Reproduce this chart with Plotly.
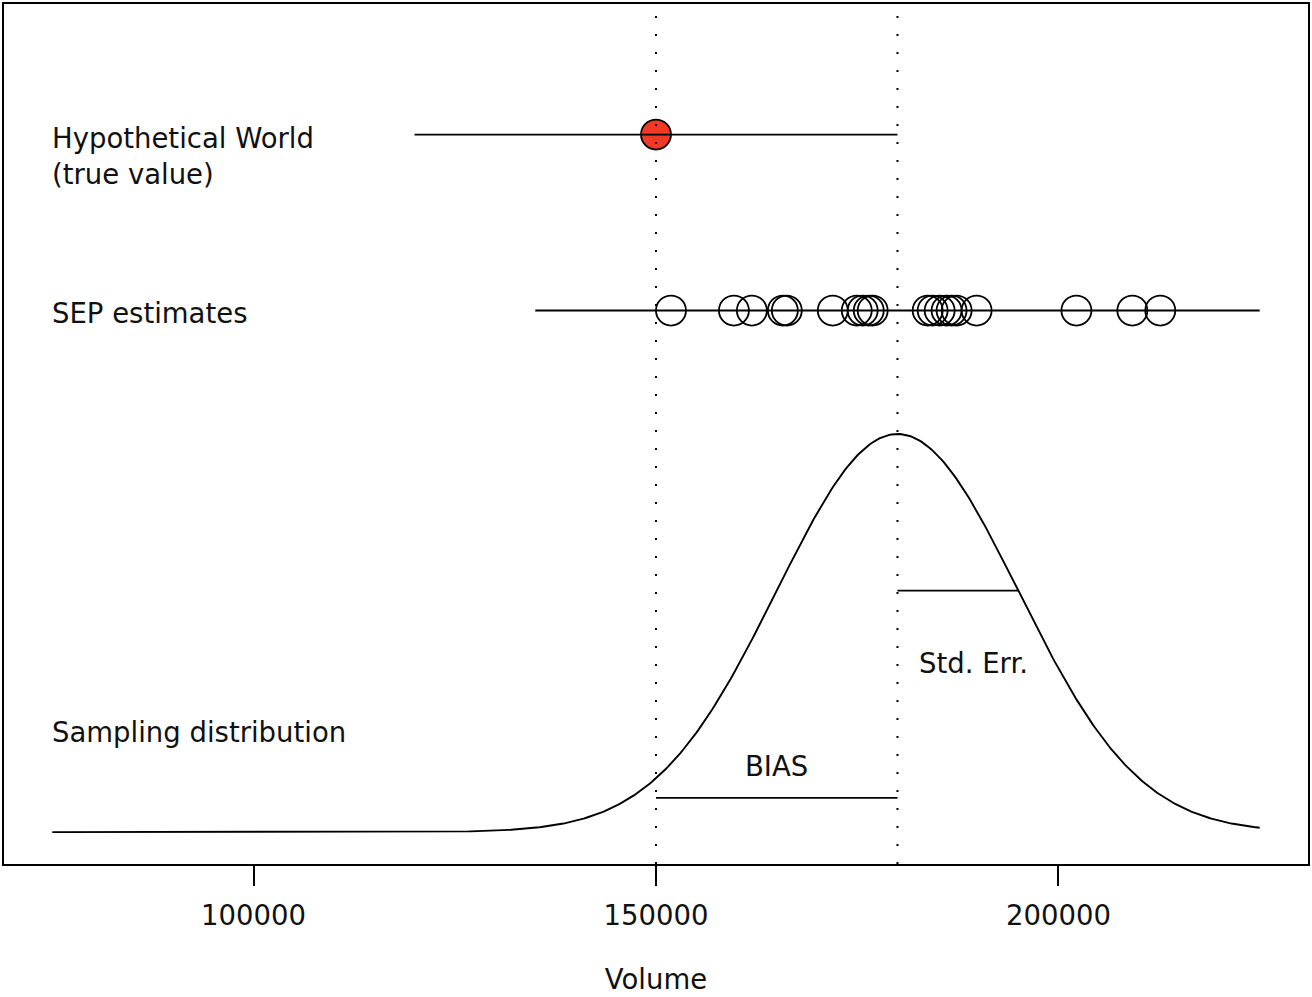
import numpy as np
import plotly.graph_objects as go

# ---- data ----
true_value = 150000
hyp_range = [120000, 180000]
hyp_level = 0.876

sep_estimates = [151860, 159680, 161910, 165760, 166250, 171960, 174940, 175680,
                 176430, 176920, 183750, 184370, 185240, 186100, 186720, 187350,
                 189830, 202230, 209180, 212650]
sep_range = [135000, 225000]
sep_level = 0.655

dist_mean = 180000
dist_se = 15000
dist_peak = 0.5
dist_span = [75000, 225000]

bias_level = 0.043
ref_lines = [150000, 180000]

tick_vals = [100000, 150000, 200000]
tick_text = ["100000", "150000", "200000"]

FONT = "DejaVu Sans"
FS = 27.5
LW = 1.9

# sampling distribution curve (normal density, scaled)
xs = np.linspace(dist_span[0], dist_span[1], 601)
ys = dist_peak * np.exp(-0.5 * ((xs - dist_mean) / dist_se) ** 2)
se_height = dist_peak * np.exp(-0.5)

fig = go.Figure()

# sampling distribution
fig.add_trace(go.Scatter(x=xs, y=ys, mode="lines",
                         line=dict(color="black", width=LW), hoverinfo="skip"))

# bias segment
fig.add_trace(go.Scatter(x=[true_value, dist_mean], y=[bias_level, bias_level],
                         mode="lines", line=dict(color="black", width=LW)))
# std err segment
fig.add_trace(go.Scatter(x=[dist_mean, dist_mean + dist_se], y=[se_height, se_height],
                         mode="lines", line=dict(color="black", width=LW)))

# SEP estimates
fig.add_trace(go.Scatter(x=sep_range, y=[sep_level, sep_level], mode="lines",
                         line=dict(color="black", width=LW)))
fig.add_trace(go.Scatter(x=sep_estimates, y=[sep_level] * len(sep_estimates),
                         mode="markers",
                         marker=dict(symbol="circle-open", size=30, color="black",
                                     line=dict(color="black", width=1.8))))

# hypothetical world
fig.add_trace(go.Scatter(x=[true_value], y=[hyp_level], mode="markers",
                         marker=dict(symbol="circle", size=30, color="#F03A26",
                                     line=dict(color="black", width=1.8))))
fig.add_trace(go.Scatter(x=hyp_range, y=[hyp_level, hyp_level], mode="lines",
                         line=dict(color="black", width=LW)))

# dotted reference lines
for xv in ref_lines:
    fig.add_shape(type="line", x0=xv, x1=xv, y0=0, y1=1, xref="x", yref="paper",
                  line=dict(color="black", width=2, dash="2px,16px"))

ann_font = dict(family=FONT, size=FS, color="#111111")
fig.add_annotation(x=dist_span[0], y=0.849, text="Hypothetical World<br>(true value)",
                   xanchor="left", yanchor="middle", align="left", showarrow=False,
                   font=ann_font, xshift=-2)
fig.add_annotation(x=dist_span[0], y=0.652, text="SEP estimates",
                   xanchor="left", yanchor="middle", showarrow=False, font=ann_font,
                   xshift=-2)
fig.add_annotation(x=dist_span[0], y=0.1256, text="Sampling distribution",
                   xanchor="left", yanchor="middle", showarrow=False, font=ann_font,
                   xshift=-2)
fig.add_annotation(x=(true_value + dist_mean) / 2, y=0.083, text="BIAS",
                   xanchor="center", yanchor="middle", showarrow=False, font=ann_font)
fig.add_annotation(x=189400, y=0.213, text="Std. Err.",
                   xanchor="center", yanchor="middle", showarrow=False, font=ann_font)

fig.update_layout(
    width=1312, height=997,
    margin=dict(l=4, r=2, t=3, b=133),
    paper_bgcolor="white", plot_bgcolor="white",
    showlegend=False,
    font=dict(family=FONT, size=FS, color="#111111"),
    xaxis=dict(range=[69000, 231000], tickvals=tick_vals, ticktext=tick_text,
               ticks="outside", ticklen=20, tickwidth=1.5, tickcolor="black",
               ticklabelstandoff=6,
               showline=True, mirror=True, linewidth=2, linecolor="black",
               showgrid=False, zeroline=False,
               tickfont=dict(family=FONT, size=FS, color="#111111"),
               title=dict(text="Volume", standoff=40,
                          font=dict(family=FONT, size=FS, color="#111111"))),
    yaxis=dict(range=[-0.04, 1.04], showticklabels=False, ticks="",
               showline=True, mirror=True, linewidth=2, linecolor="black",
               showgrid=False, zeroline=False),
)

fig.write_html(
    "out.html",
    config={"displayModeBar": False},
    post_script="document.body.style.margin='0';document.body.style.overflow='hidden';",
)
